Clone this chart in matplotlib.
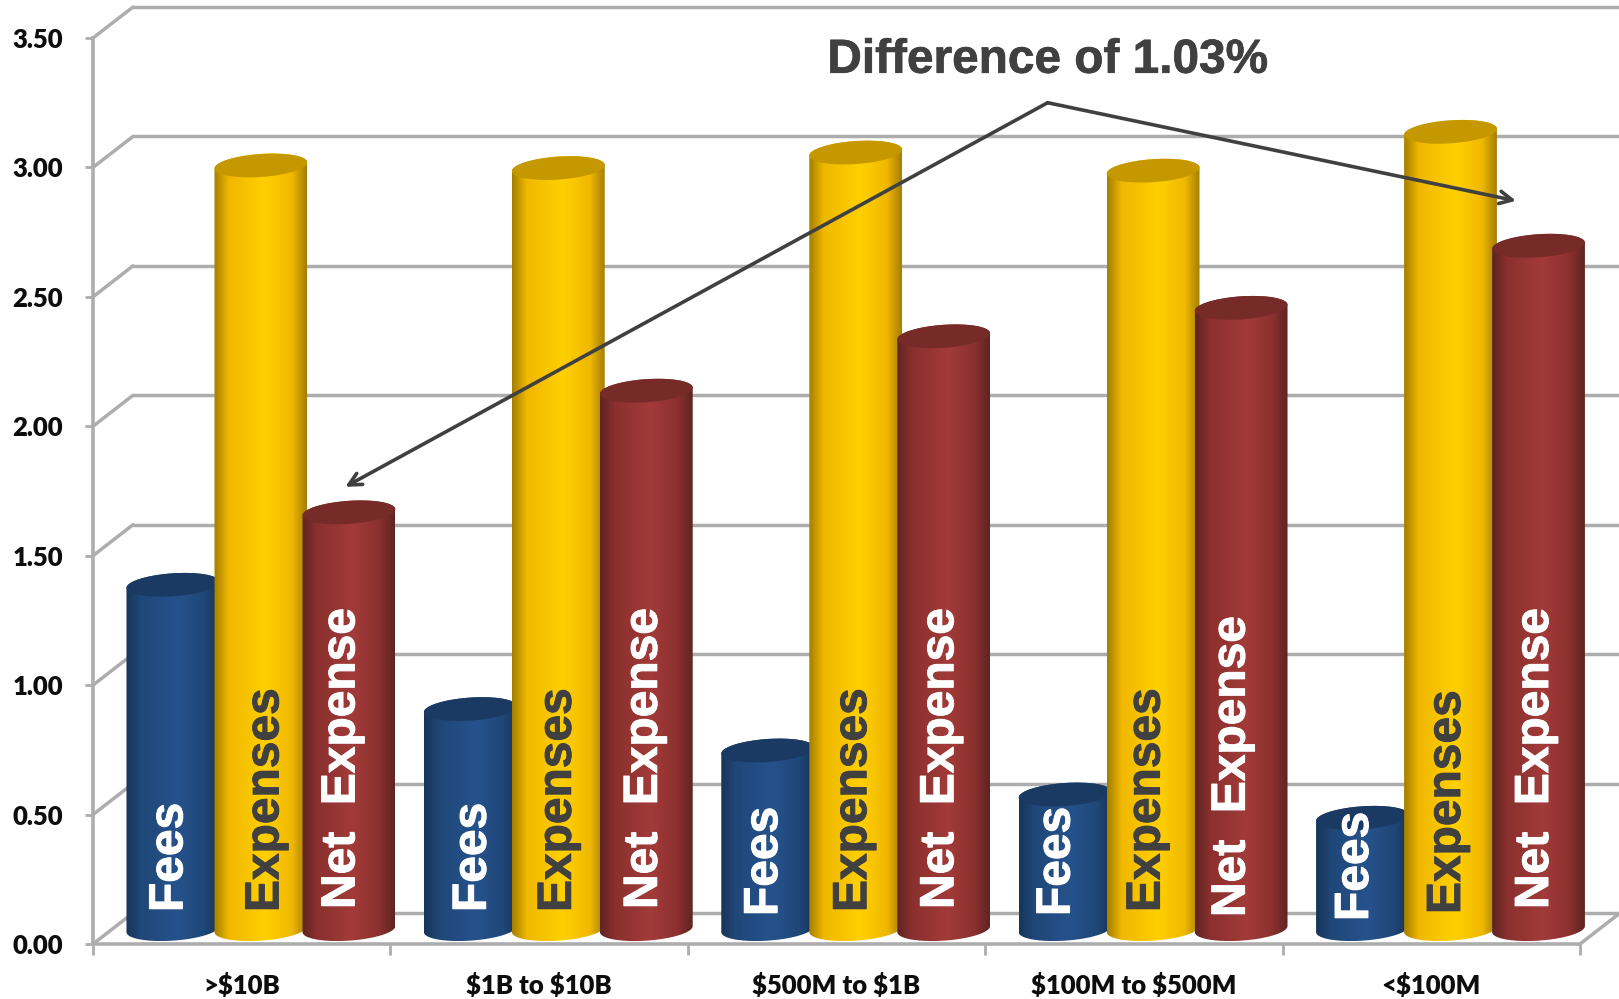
import numpy as np
import matplotlib
matplotlib.use("Agg")
import matplotlib.pyplot as plt
import matplotlib.patheffects as pe
from matplotlib.colors import LinearSegmentedColormap
from matplotlib.patches import Ellipse, PathPatch
from matplotlib.path import Path
from matplotlib.transforms import IdentityTransform

plt.rcParams["text.parse_math"] = False

# ---- data ----
categories = [">$10B", "$1B to $10B", "$500M to $1B", "$100M to $500M", "<$100M"]
fees = [1.33, 0.85, 0.69, 0.52, 0.43]
expenses = [2.95, 2.94, 3.00, 2.93, 3.08]
net_expense = [1.61, 2.08, 2.29, 2.40, 2.64]
y_ticks = [0.0, 0.5, 1.0, 1.5, 2.0, 2.5, 3.0, 3.5]
annotation = "Difference of 1.03%"

# ---- layout (figure pixels) ----
W, H = 1619, 999
AX_L, AX_R, AX_B, AX_T = 93, 1580, 999 - 944, 999 - 38
DEPTH_X, DEPTH_Y = 40, 31
CYL_A, CYL_B, TILT = 46.5, 11.5, 4.0
GRID = "#ADADAD"

fig = plt.figure(figsize=(W / 100, H / 100), dpi=100, facecolor="white")
ax = fig.add_axes([AX_L / W, AX_B / H, (AX_R - AX_L) / W, (AX_T - AX_B) / H])
ax.set_xlim(0, len(categories))
ax.set_ylim(0, 3.5)
ax.set_autoscale_on(False)
ax.patch.set_visible(False)
for side in ("top", "right"):
    ax.spines[side].set_visible(False)
for side in ("left", "bottom"):
    ax.spines[side].set_color(GRID)
    ax.spines[side].set_linewidth(2.6)

ax.set_yticks(y_ticks, [f"{v:.2f}" for v in y_ticks])
ax.set_xticks(range(len(categories) + 1), [""] * (len(categories) + 1))
ax.set_xticks([i + 0.5 for i in range(len(categories))], categories, minor=True)
lab = dict(family="Lato", weight="heavy", size=18.5, color="#0D0D0D")
for t in ax.get_yticklabels() + ax.get_xticklabels(minor=True):
    t.set(**lab)
ax.tick_params(axis="y", length=5.5, width=2, color=GRID, pad=16)
ax.tick_params(axis="x", which="major", length=8, width=2, color=GRID)
ax.tick_params(axis="x", which="minor", length=0, pad=21)

# walls: back gridlines, left-wall diagonals and the floor edge
unit_x = (AX_R - AX_L) / len(categories)
unit_y = (AX_T - AX_B) / 3.5
dx, dy = DEPTH_X / unit_x, DEPTH_Y / unit_y
line = dict(color=GRID, lw=2.5, clip_on=False, zorder=1, solid_capstyle="round")
for v in y_ticks:
    ax.plot([dx, len(categories) + dx], [v + dy, v + dy], **line)
    ax.plot([0, dx], [v, v + dy], **line)
ax.plot([len(categories), len(categories) + dx], [0, dy], **line)


def shades(edge, mid, peak):
    return LinearSegmentedColormap.from_list(
        "cyl", [(0, edge), (0.16, mid), (0.55, peak), (0.84, mid), (1, edge)]
    )


series = [
    (fees, -0.296, shades("#173558", "#1F4778", "#26528C"), "#1B3A63", "Fees", "white",
     [-3, 3, -3, -8, -7], [32, 32, 28, 28, 23]),
    (expenses, 0.0, shades("#A47E00", "#F0B800", "#FFD000"), "#C59800", "Expenses", "#404040",
     [5, 0, -2, -6, -3], [32, 32, 32, 32, 30]),
    (net_expense, 0.296, shades("#5E2422", "#8A302E", "#A23B39"), "#762B29", "Net  Expense", "white",
     [-7, -2, -3, -9, -3], [35, 35, 35, 27, 35]),
]

gradient = np.linspace(0, 1, 256).reshape(1, -1)
identity = IdentityTransform()
depth_mid = 0.48


def ellipse_arc(cx, cy, t0, t1, n=40):
    """Points of a tilted ellipse between two parametric angles, in pixels."""
    t = np.linspace(t0, t1, n)
    th = np.radians(TILT)
    px = CYL_A * np.cos(t)
    py = CYL_B * np.sin(t)
    return np.column_stack([cx + px * np.cos(th) - py * np.sin(th),
                            cy + px * np.sin(th) + py * np.cos(th)])


z = 5.0
for g in range(len(categories)):
    for values, offset, cmap, cap, label, color, shift, base in series:
        x = g + 0.5 + offset + depth_mid * dx
        cx, cy_top = ax.transData.transform((x, values[g] + depth_mid * dy))
        _, cy_bot = ax.transData.transform((x, depth_mid * dy))

        outline = np.vstack([ellipse_arc(cx, cy_bot, np.pi, 2 * np.pi),
                             ellipse_arc(cx, cy_top, 0, np.pi)])
        body = PathPatch(Path(np.vstack([outline, outline[0]]), closed=True),
                         transform=identity, fc="none", ec="none", zorder=z)
        ax.add_patch(body)
        body.set_clip_on(False)
        im = ax.imshow(gradient, cmap=cmap, aspect="auto", zorder=z, interpolation="bilinear",
                       extent=(cx - CYL_A, cx + CYL_A, outline[:, 1].min(), outline[:, 1].max()),
                       transform=identity)
        im.set_clip_box(fig.bbox)
        im.set_clip_path(body)
        ax.add_patch(Ellipse((cx, cy_top), 2 * CYL_A, 2 * CYL_B, angle=TILT, fc=cap, ec="none",
                             transform=identity, zorder=z + 0.1, clip_on=False))
        z += 1
        ax.annotate(label, (x, 0), xytext=(shift[g], base[g]), textcoords="offset pixels",
                    rotation=90, ha="center", va="bottom", color=color,
                    family="Liberation Sans", weight="bold", size=34.5, zorder=100,
                    path_effects=[pe.withStroke(linewidth=0.7, foreground=color)])

# callout with two arrows from a shared apex
apex = (3.21, 3.25)
arrow = dict(arrowstyle="->,head_length=0.9,head_width=0.45", color="#404040", lw=2.6,
             shrinkA=0, shrinkB=0)
for tip in [(0.848, 1.766), (4.785, 2.871)]:
    ax.annotate("", xy=tip, xytext=apex, arrowprops=arrow, zorder=110, annotation_clip=False)
ax.text(3.21, 3.414, annotation, ha="center", va="center", color="#404040",
        family="Liberation Sans", weight="bold", size=34.4, zorder=110,
        path_effects=[pe.withStroke(linewidth=0.5, foreground="#404040")])

fig.savefig("out.png", dpi=100, facecolor="white")
